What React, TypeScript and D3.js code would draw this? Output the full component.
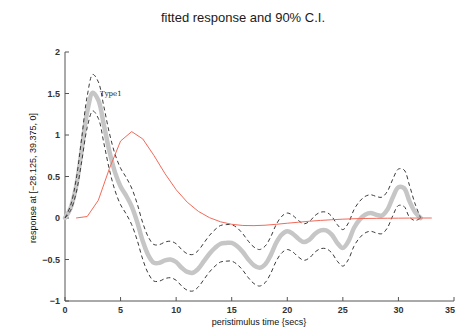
import React from 'react';
import * as d3 from 'd3';

// time grid for the fitted response (secs)
const times = d3.range(0, 32.5, 0.5);

const fitted = [
  0, 0.12, 0.38, 0.82, 1.28, 1.51, 1.42, 1.12, 0.8, 0.55, 0.38, 0.27, 0.14, -0.05, -0.28, -0.45,
  -0.54, -0.54, -0.51, -0.5, -0.53, -0.6, -0.65, -0.66, -0.61, -0.52, -0.43, -0.36, -0.31, -0.3,
  -0.3, -0.34, -0.41, -0.5, -0.57, -0.6, -0.56, -0.45, -0.3, -0.2, -0.16, -0.19, -0.25, -0.29,
  -0.26, -0.19, -0.15, -0.15, -0.2, -0.3, -0.36, -0.28, -0.12, -0.02, 0.04, 0.06, 0.04, 0.03,
  0.1, 0.25, 0.37, 0.36, 0.2, 0.07, 0,
];

const upper = [
  0, 0.15, 0.46, 0.96, 1.47, 1.73, 1.64, 1.34, 1.02, 0.77, 0.6, 0.49, 0.36, 0.17, -0.06, -0.23,
  -0.32, -0.32, -0.29, -0.28, -0.31, -0.38, -0.43, -0.44, -0.39, -0.3, -0.21, -0.14, -0.09, -0.08,
  -0.08, -0.12, -0.19, -0.28, -0.35, -0.38, -0.34, -0.23, -0.08, 0.02, 0.06, 0.03, -0.03, -0.07,
  -0.04, 0.03, 0.07, 0.07, 0.02, -0.08, -0.14, -0.06, 0.1, 0.2, 0.26, 0.28, 0.26, 0.25,
  0.32, 0.47, 0.59, 0.58, 0.39, 0.17, 0,
];

const lower = [
  0, 0.09, 0.3, 0.68, 1.09, 1.29, 1.2, 0.9, 0.58, 0.33, 0.16, 0.05, -0.08, -0.27, -0.5, -0.67,
  -0.76, -0.76, -0.73, -0.72, -0.75, -0.82, -0.87, -0.88, -0.83, -0.74, -0.65, -0.58, -0.53, -0.52,
  -0.52, -0.56, -0.63, -0.72, -0.79, -0.82, -0.78, -0.67, -0.52, -0.42, -0.38, -0.41, -0.47, -0.51,
  -0.48, -0.41, -0.37, -0.37, -0.42, -0.52, -0.58, -0.5, -0.34, -0.24, -0.18, -0.16, -0.18, -0.19,
  -0.12, 0.03, 0.15, 0.14, 0.01, -0.03, 0,
];

// canonical response, sampled each second from t = 1
const canonTimes = d3.range(1, 34, 1);
const canonical = [
  0, 0.018, 0.214, 0.598, 0.927, 1.041, 0.952, 0.754, 0.534, 0.341, 0.19, 0.08, 0.004, -0.046,
  -0.076, -0.09, -0.092, -0.087, -0.076, -0.063, -0.051, -0.039, -0.029, -0.021, -0.014, -0.009,
  -0.006, -0.004, -0.003, -0.002, -0.001, 0, 0,
];

const xTicks = [0, 5, 10, 15, 20, 25, 30, 35];
const yTicks = [-1, -0.5, 0, 0.5, 1, 1.5, 2];

const title = 'fitted response and 90% C.I.';
const xLabel = 'peristimulus time {secs}';
const yLabel = 'response at [\u221228.125, 39.375, 0]';
const typeLabel = 'Type1';

const W = 457;
const H = 328;
const left = 65, right = 454, top = 52, bottom = 301;

const x = d3.scaleLinear().domain([0, 35]).range([left, right]);
const y = d3.scaleLinear().domain([-1, 2]).range([bottom, top]);

const fmt = (v: number) => String(v).replace('-', '\u2212');

export default function App() {
  const smooth = d3
    .line<number>()
    .x((_, i) => x(times[i]))
    .y((d) => y(d))
    .curve(d3.curveCatmullRom);

  const straight = d3
    .line<number>()
    .x((_, i) => x(canonTimes[i]))
    .y((d) => y(d));

  const font = '"Liberation Sans", Arial, Helvetica, sans-serif';

  return (
    <svg
      width={W}
      height={H}
      style={{ position: 'fixed', left: 0, top: 0, background: '#fff' }}
      fontFamily={font}
    >
      <text x={243} y={22} textAnchor="middle" fontSize={13} fill="#1a1a1a">
        {title}
      </text>

      {/* axes */}
      <line x1={left} x2={left} y1={top} y2={bottom} stroke="#555" />
      <line x1={left} x2={right} y1={bottom} y2={bottom} stroke="#555" />
      {yTicks.map((t) => (
        <g key={'y' + t}>
          <line x1={left} x2={left + 4} y1={y(t)} y2={y(t)} stroke="#555" />
          <text x={left - 5} y={y(t) + 3} textAnchor="end" fontSize={9} fontWeight="bold" fill="#333">
            {fmt(t)}
          </text>
        </g>
      ))}
      {xTicks.map((t) => (
        <g key={'x' + t}>
          <line x1={x(t)} x2={x(t)} y1={bottom} y2={bottom - 4} stroke="#555" />
          <text
            x={Math.min(x(t), 450)}
            y={bottom + 12}
            textAnchor="middle"
            fontSize={9}
            fontWeight="bold"
            fill="#333"
          >
            {t}
          </text>
        </g>
      ))}
      <text x={259} y={325} textAnchor="middle" fontSize={9} fill="#111">
        {xLabel}
      </text>
      <text
        transform={`translate(36,178) rotate(-90)`}
        textAnchor="middle"
        fontSize={9}
        fill="#111"
      >
        {yLabel}
      </text>

      {/* fitted response */}
      <path d={smooth(fitted) ?? ''} fill="none" stroke="#c6c6c6" strokeWidth={4.5} strokeLinecap="round" />
      <path d={smooth(upper) ?? ''} fill="none" stroke="#3a3a3a" strokeWidth={1} strokeDasharray="4,3" />
      <path d={smooth(lower) ?? ''} fill="none" stroke="#3a3a3a" strokeWidth={1} strokeDasharray="4,3" />

      {/* canonical */}
      <path d={straight(canonical) ?? ''} fill="none" stroke="#f26a5a" strokeWidth={1} />

      <text x={100} y={96} fontSize={7} fill="#222" fontFamily='"DejaVu Serif", serif'>
        {typeLabel}
      </text>
    </svg>
  );
}
